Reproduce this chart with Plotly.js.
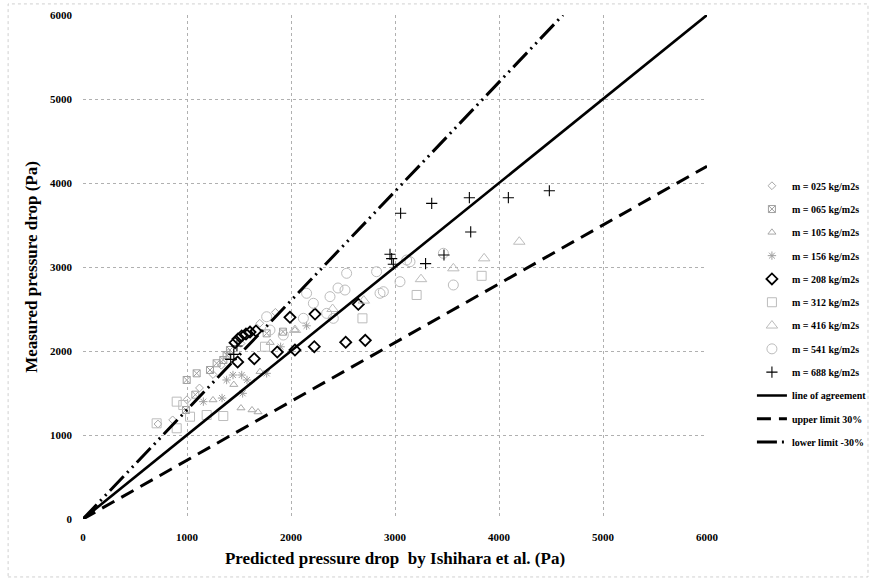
<!DOCTYPE html>
<html>
<head>
<meta charset="utf-8">
<script src="https://cdn.plot.ly/plotly-3.0.1.min.js"></script>
<style>html,body{margin:0;padding:0;background:#fff;}#chart{width:875px;height:581px;}</style>
</head>
<body>
<div id="chart"></div>
<script>
// ---- data ----
const seriesNames = ["m = 025 kg/m2s","m = 065 kg/m2s","m = 105 kg/m2s","m = 156 kg/m2s","m = 208 kg/m2s","m = 312 kg/m2s","m = 416 kg/m2s","m = 541 kg/m2s","m = 688 kg/m2s"];

const m025_x = [721, 862, 1000, 1120, 1250, 1330, 1400, 1520, 1600, 1700, 1850];
const m025_y = [1131, 1180, 1420, 1560, 1720, 1830, 1980, 2090, 2230, 2330, 2460];

const m065_x = [997, 1093, 1221, 1285, 1349, 1381, 1413, 1766, 1923, 990, 1080];
const m065_y = [1655, 1734, 1774, 1854, 1893, 1952, 2012, 2210, 2230, 1298, 1480];

const m105_x = [1250, 1519, 1625, 1683, 1702, 2038, 1450, 1800];
const m105_y = [1417, 1321, 1298, 1274, 1754, 2250, 1600, 2100];

const m156_x = [1157, 1337, 1381, 1442, 1526, 1535, 1577, 1766, 1900, 2150];
const m156_y = [1397, 1440, 1655, 1714, 1714, 1496, 1655, 1734, 2050, 2300];

const m208_x = [1462, 1490, 1526, 1567, 1606, 1663, 1487, 1647, 1868, 2038, 2224, 2526, 2714, 1990, 2231, 2647];
const m208_y = [2099, 2143, 2179, 2202, 2226, 2238, 1869, 1908, 1988, 2012, 2051, 2104, 2127, 2401, 2440, 2556];

const m312_x = [708, 901, 964, 901, 1029, 1189, 1349, 1750, 2687, 3208, 3833];
const m312_y = [1139, 1397, 1357, 1080, 1218, 1238, 1226, 2051, 2389, 2667, 2895];

const m416_x = [2038, 2400, 2700, 3250, 3561, 3857, 4195];
const m416_y = [2250, 2500, 2600, 2855, 2984, 3103, 3301];

const m541_x = [2535, 2823, 2888, 2519, 2452, 2375, 2150, 2215, 2343, 2407, 2119, 1926, 1798, 1766, 3144, 3048, 2856, 3561, 3112, 3465];
const m541_y = [2925, 2944, 2706, 2726, 2750, 2647, 2687, 2568, 2448, 2389, 2389, 2190, 2250, 2408, 3063, 2825, 2687, 2786, 3083, 3163];

const m688_x = [1420, 1450, 1480, 2952, 2968, 2984, 3294, 3471, 3054, 3353, 3715, 4090, 4484, 3728];
const m688_y = [1900, 1960, 2060, 3151, 3100, 3032, 3040, 3143, 3640, 3758, 3825, 3825, 3908, 3417];

const agree_x = [0, 6000];
const agree_y = [0, 6000];
const upper_x = [0, 6000];
const upper_y = [0, 4200];
const lower_x = [0, 4615];
const lower_y = [0, 6000];

const xTicks = [0, 1000, 2000, 3000, 4000, 5000, 6000];
const yTicks = [0, 1000, 2000, 3000, 4000, 5000, 6000];

// ---- styling ----
const serif = "Liberation Serif, Times New Roman, serif";
const xs = [m025_x, m065_x, m105_x, m156_x, m208_x, m312_x, m416_x, m541_x, m688_x];
const ys = [m025_y, m065_y, m105_y, m156_y, m208_y, m312_y, m416_y, m541_y, m688_y];
const markerStyles = [
  {symbol: "diamond-open", color: "#a8a8a8", size: 6, line: {width: 1, color: "#a8a8a8"}},
  {symbol: "square-x-open", color: "#a0a0a0", size: 7, line: {width: 1, color: "#a0a0a0"}},
  {symbol: "triangle-up-open", color: "#a8a8a8", size: 7, line: {width: 1, color: "#a8a8a8"}},
  {symbol: "asterisk-open", color: "#a0a0a0", size: 7, line: {width: 1, color: "#a0a0a0"}},
  {symbol: "diamond-open", color: "#000000", size: 8.5, line: {width: 1.8, color: "#000000"}},
  {symbol: "square-open", color: "#bcbcbc", size: 9, line: {width: 1, color: "#bcbcbc"}},
  {symbol: "triangle-up-open", color: "#bcbcbc", size: 10, line: {width: 1, color: "#bcbcbc"}},
  {symbol: "circle-open", color: "#bcbcbc", size: 10, line: {width: 1, color: "#bcbcbc"}},
  {symbol: "cross-thin-open", color: "#000000", size: 8, line: {width: 1.1, color: "#000000"}}
];

const traces = [];
for (let i = 0; i < seriesNames.length; i++) {
  traces.push({
    type: "scatter", mode: "markers", name: seriesNames[i],
    x: xs[i], y: ys[i], marker: markerStyles[i],
    legendgroup: "g" + i, cliponaxis: true
  });
}
traces.push({type: "scatter", mode: "lines", name: "line of agreement", x: agree_x, y: agree_y,
  line: {color: "#000", width: 2.6}, legendgroup: "l1"});
traces.push({type: "scatter", mode: "lines", name: "upper limit 30%", x: upper_x, y: upper_y,
  line: {color: "#000", width: 3, dash: "14px,8px"}, legendgroup: "l2"});
traces.push({type: "scatter", mode: "lines", name: "lower limit -30%", x: lower_x, y: lower_y,
  line: {color: "#000", width: 3, dash: "20px,5px,2px,5px,2px,5px"}, legendgroup: "l3"});

const axisCommon = {
  range: [0, 6000], tickmode: "array", showgrid: true, gridcolor: "#b0b0b0", griddash: "dot", gridwidth: 1,
  zeroline: false, showline: false, ticks: "", ticklabelstandoff: 10,
  tickfont: {family: serif, size: 11, color: "#000", weight: "bold"}, fixedrange: true
};

const layout = {
  width: 875, height: 581,
  margin: {l: 83, r: 168, t: 15, b: 62, pad: 0, autoexpand: false},
  paper_bgcolor: "#fff", plot_bgcolor: "#fff",
  showlegend: true,
  legend: {x: 1.072, xanchor: "left", y: 0.69, yanchor: "top", tracegroupgap: 4.3,
    font: {family: serif, size: 10, color: "#000", weight: "bold"}, bgcolor: "rgba(0,0,0,0)", borderwidth: 0},
  xaxis: Object.assign({}, axisCommon, {tickvals: xTicks, ticktext: xTicks.map(String), automargin: false,
    title: {text: "Predicted pressure drop  by Ishihara et al. (Pa)", standoff: 10,
      font: {family: serif, size: 17, color: "#000", weight: "bold"}}}),
  yaxis: Object.assign({}, axisCommon, {tickvals: yTicks, ticktext: yTicks.map(String), automargin: false,
    title: {text: "Measured pressure drop (Pa)", standoff: 8,
      font: {family: serif, size: 17, color: "#000", weight: "bold"}}}),
  shapes: [
    {type: "rect", xref: "paper", yref: "paper", x0: -0.12, x1: 1.258, y0: -0.115, y1: 1.022,
      line: {color: "#d0d0d0", width: 1, dash: "dot"}, fillcolor: "rgba(0,0,0,0)", layer: "below"}
  ]
};

Plotly.newPlot("chart", traces, layout, {displayModeBar: false, staticPlot: true});
</script>
</body>
</html>
